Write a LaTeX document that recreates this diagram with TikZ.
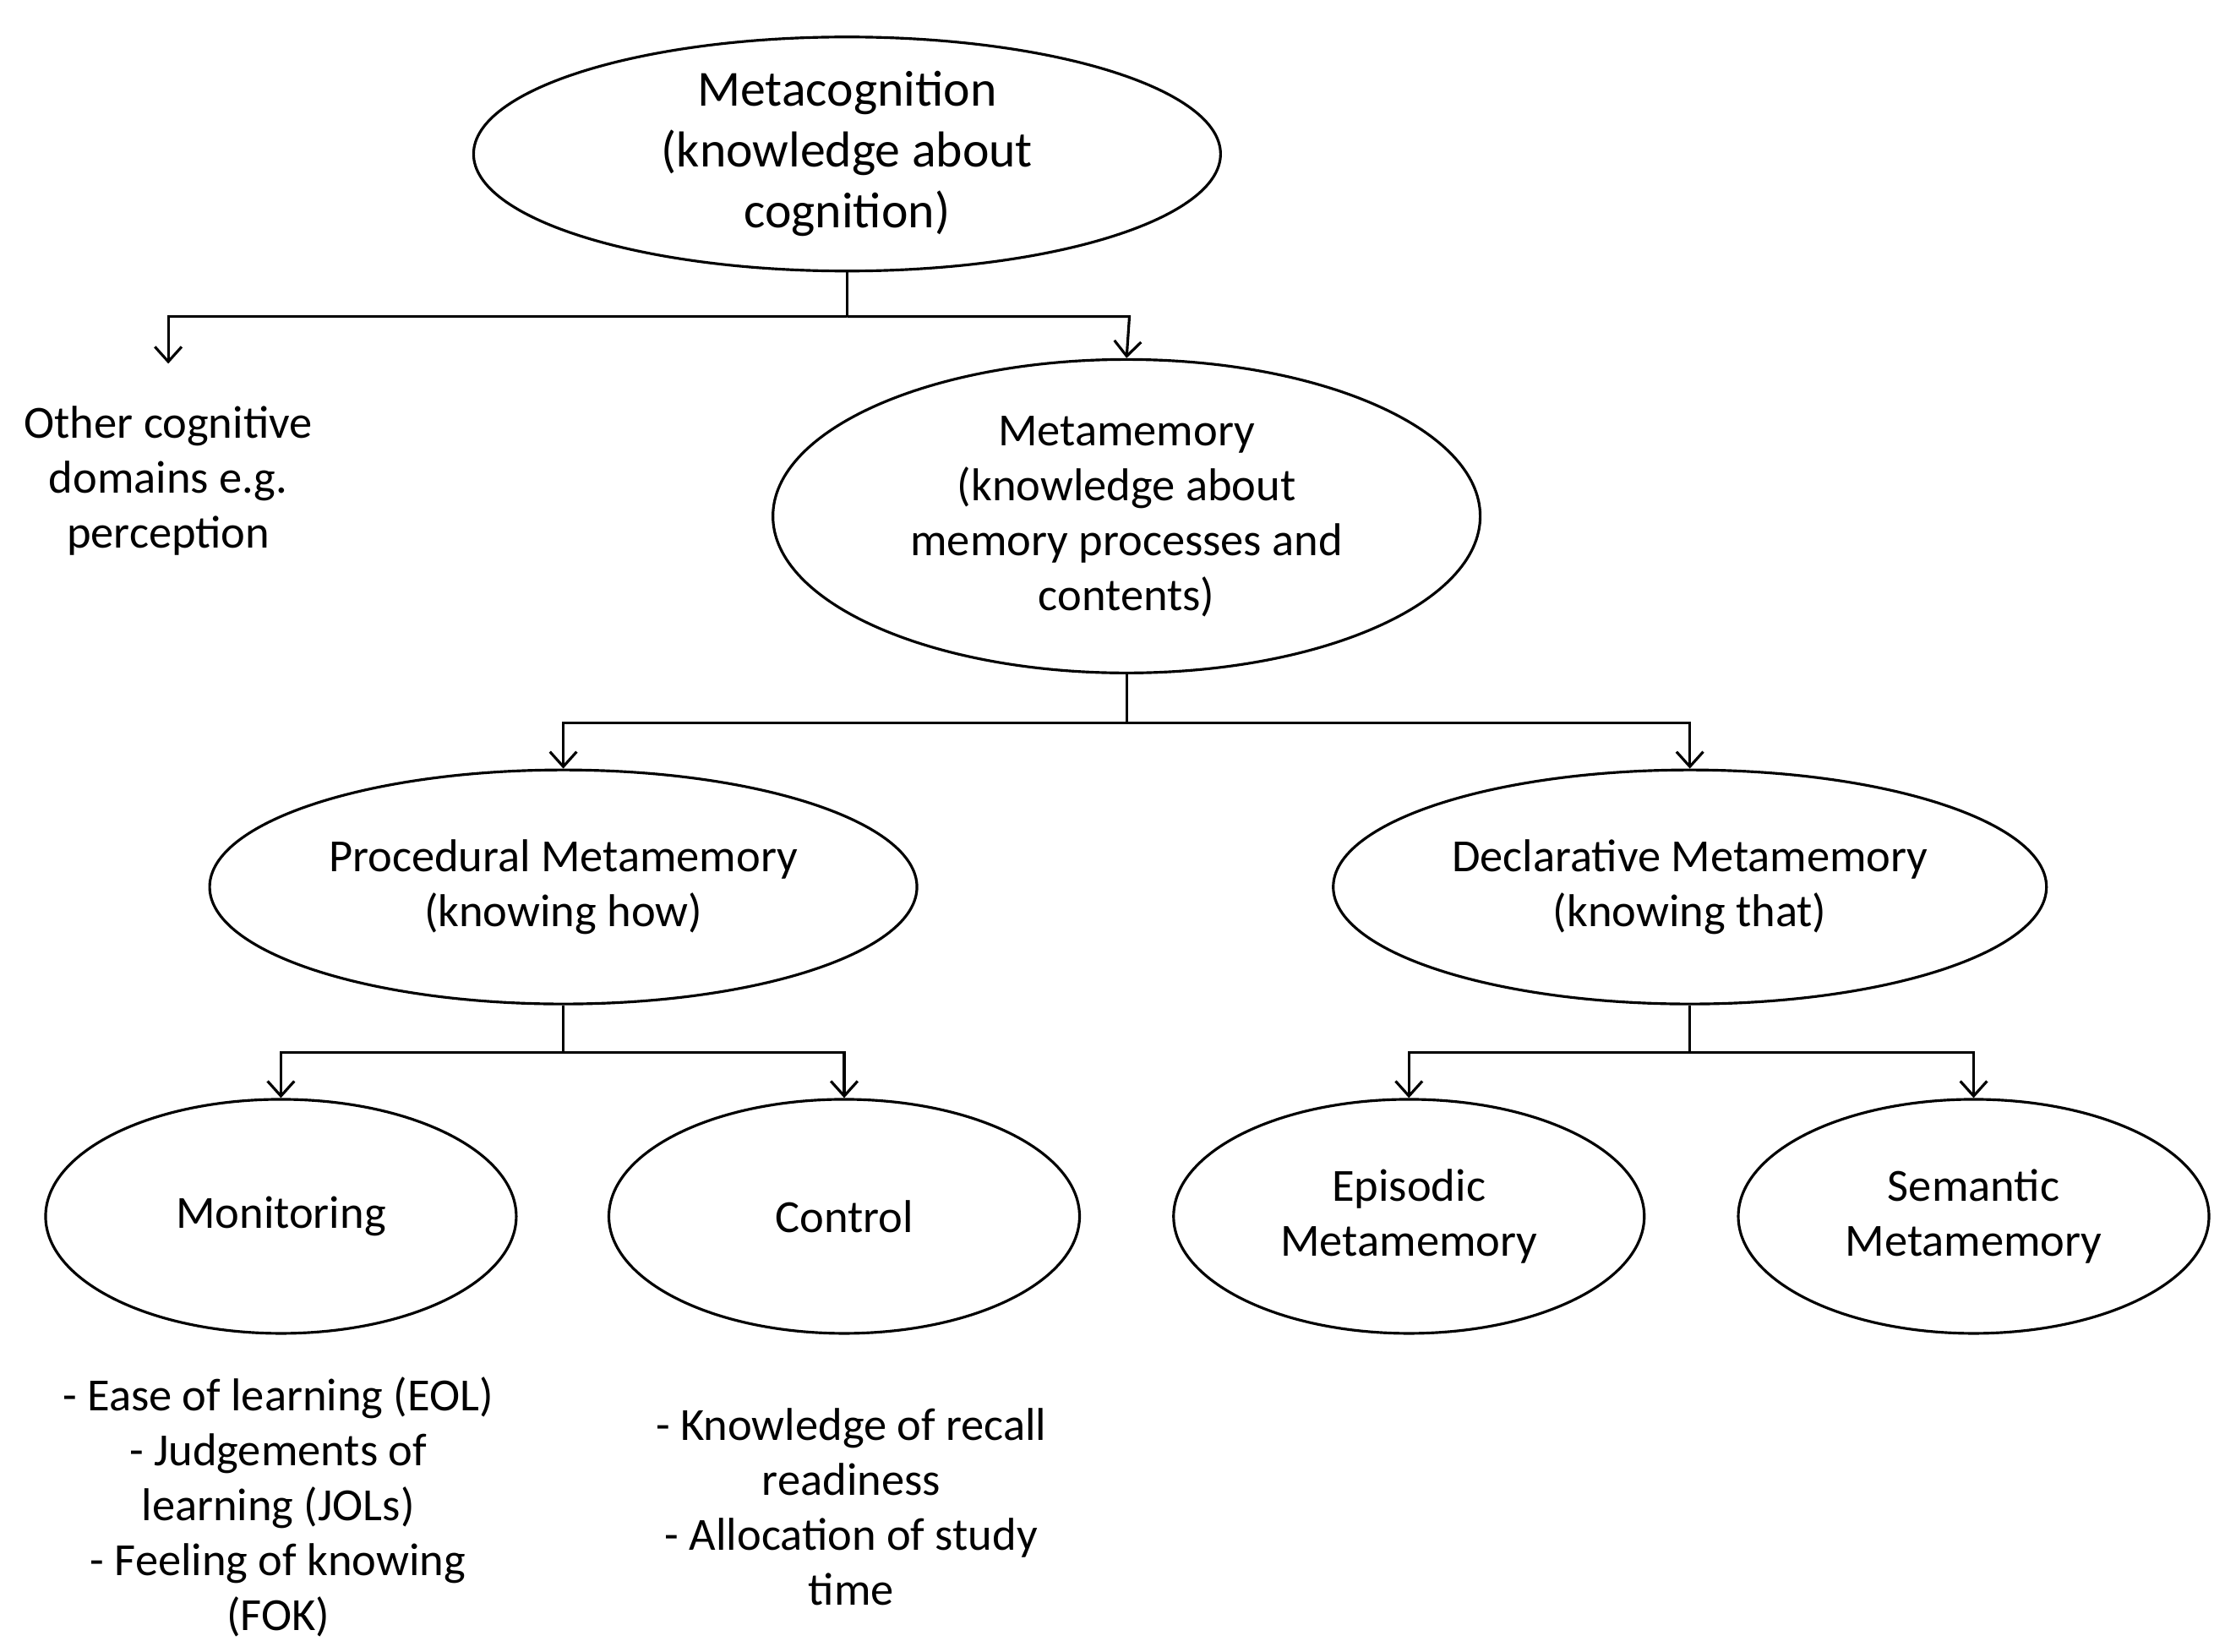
\documentclass[tikz,border=0pt]{standalone}
\usepackage{fontspec}
\setmainfont{Carlito}
\usetikzlibrary{shapes.geometric,arrows.meta}
\begin{document}
\begin{tikzpicture}[x=0.016875cm,y=-0.016875cm,
  ell/.style={draw,ellipse,line width=0.9pt,inner sep=0pt,align=center,font=\fontsize{15.5}{18.5}\selectfont},
  txt/.style={align=center,font=\fontsize{15.5}{18.5}\selectfont},
  ln/.style={line width=0.9pt},
  arr/.style={ln,-{Straight Barb[length=5pt,width=9pt]}}]
\useasboundingbox (0,0) rectangle (1568,1158.5);
\node[ell,minimum width=524\pgflinewidth,minimum width=8.84cm,minimum height=2.77cm,font=\fontsize{17}{20.5}\selectfont] (mc) at (594,108) {Metacognition\\(knowledge about\\cognition)};
\node[ell,minimum width=8.37cm,minimum height=3.71cm] (mm) at (790,362) {Metamemory\\(knowledge about\\memory processes and\\contents)};
\node[ell,minimum width=8.37cm,minimum height=2.77cm] (pm) at (395,622) {Procedural Metamemory\\(knowing how)};
\node[ell,minimum width=8.44cm,minimum height=2.77cm] (dm) at (1185,622) {Declarative Metamemory\\(knowing that)};
\node[ell,minimum width=5.57cm,minimum height=2.77cm] (mo) at (197,853) {Monitoring};
\node[ell,minimum width=5.57cm,minimum height=2.77cm] (co) at (592,853) {Control};
\node[ell,minimum width=5.57cm,minimum height=2.77cm] (ep) at (988,853) {Episodic\\Metamemory};
\node[ell,minimum width=5.57cm,minimum height=2.77cm] (se) at (1384,853) {Semantic\\Metamemory};
\node[txt] (oc) at (118,337) {Other cognitive\\domains e.g.\\perception};
\node[txt] (mol) at (195,1057) {- Ease of learning (EOL)\\- Judgements of\\learning (JOLs)\\- Feeling of knowing\\(FOK)};
\node[txt] (col) at (597,1057) {- Knowledge of recall\\readiness\\- Allocation of study\\time};
\coordinate (j1) at (594,222); \coordinate (j1l) at (118,222); \coordinate (j1r) at (792,222);
\coordinate (oct) at (118,255);
\draw[ln] (mc.south) -- (j1);
\draw[arr] (j1) -- (j1l) -- (oct);
\draw[arr] (j1) -- (j1r) -- (mm.north);
\coordinate (j2) at (790,507); \coordinate (j2l) at (395,507); \coordinate (j2r) at (1185,507);
\draw[ln] (mm.south) -- (j2);
\draw[arr] (j2) -- (j2l) -- (pm.north);
\draw[arr] (j2) -- (j2r) -- (dm.north);
\coordinate (j3) at (395,738); \coordinate (j3l) at (197,738); \coordinate (j3r) at (592,738);
\draw[ln] (pm.south) -- (j3);
\draw[arr] (j3) -- (j3l) -- (mo.north);
\draw[arr] (j3) -- (j3r) -- (co.north);
\coordinate (j4) at (1185,738); \coordinate (j4l) at (988,738); \coordinate (j4r) at (1384,738);
\draw[ln] (dm.south) -- (j4);
\draw[arr] (j4) -- (j4l) -- (ep.north);
\draw[arr] (j4) -- (j4r) -- (se.north);
\end{tikzpicture}
\end{document}
